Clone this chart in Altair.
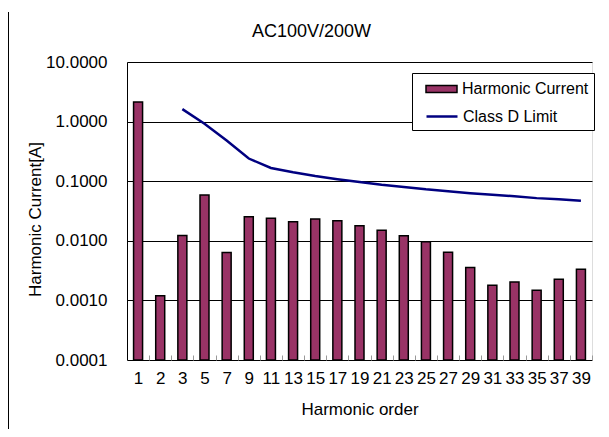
import altair as alt
import pandas as pd

FONT = "Liberation Sans"

# Harmonic orders (x categories)
harmonics = ["1", "2", "3", "5", "7", "9", "11", "13", "15", "17", "19",
             "21", "23", "25", "27", "29", "31", "33", "35", "37", "39"]
# Measured harmonic current [A]
current = [2.13, 0.0012, 0.0123, 0.0589, 0.00635, 0.0254, 0.0239, 0.0209,
           0.0232, 0.0217, 0.0179, 0.0151, 0.0121, 0.0096, 0.00644, 0.00355,
           0.00179, 0.00204, 0.00148, 0.00226, 0.00334]

# Class D limit line [A]
limit_orders = ["3", "5", "7", "9", "11", "13", "15", "17", "19", "21", "23",
                "25", "27", "29", "31", "33", "35", "37", "39"]
limit_values = [1.62, 0.92, 0.48, 0.24, 0.167, 0.141, 0.122, 0.108, 0.097,
                0.087, 0.080, 0.073, 0.068, 0.063, 0.059, 0.056, 0.052,
                0.050, 0.047]

y_ticks = [0.0001, 0.001, 0.01, 0.1, 1, 10]
y_min, y_max = 0.0001, 10
bar_series = "Harmonic Current"
line_series = "Class D Limit"
bar_color = "#993366"
line_color = "#000080"

df_bar = pd.DataFrame({"harmonic": harmonics, "value": current,
                       "series": bar_series})
df_line = pd.DataFrame({"harmonic": limit_orders, "value": limit_values,
                        "series": line_series})

x_enc = alt.X(
    "harmonic:N",
    sort=harmonics,
    scale=alt.Scale(domain=harmonics, paddingInner=0, paddingOuter=0),
    axis=alt.Axis(
        title="Harmonic order", labelAngle=0, labelOverlap=False,
        offset=-5, domain=False, tickSize=5, tickBand="extent",
        tickColor="#999999", tickWidth=1,
        labelPadding=10, labelFontSize=17, labelColor="black", labelFont=FONT,
        titleFontSize=17, titleFontWeight="normal", titleColor="black",
        titleFont=FONT, titlePadding=15,
    ),
)

y_enc = alt.Y(
    "value:Q",
    scale=alt.Scale(type="log", domain=[y_min, y_max], nice=False),
    axis=alt.Axis(
        values=y_ticks, format=".4f", grid=True, gridColor="black",
        gridWidth=1, gridOpacity=1, domainColor="black", tickSize=0,
        labelPadding=20, labelFontSize=17, labelColor="black", labelFont=FONT,
        title="Harmonic Current[A]", titleFontSize=17,
        titleFontWeight="normal", titleColor="black", titleFont=FONT,
        titleX=-83, titleY=157,
    ),
)

# Legend for the bars: owns the white box with black border
fill_enc = alt.Fill(
    "series:N",
    scale=alt.Scale(domain=[bar_series], range=[bar_color]),
    legend=alt.Legend(
        title="\u00a0", titleOrient="bottom", titleOpacity=0,
        titleFontSize=16, titlePadding=12,
        orient="none", legendX=285, legendY=11, zindex=1,
        fillColor="white", strokeColor="black", padding=5, symbolOffset=8,
        labelFont=FONT, labelFontSize=16, labelColor="black",
        symbolSize=400, labelOffset=15,
        symbolType="M-1,-0.36H2.1V0.36H-1Z",
        symbolStrokeColor="black", symbolStrokeWidth=1.5,
    ),
)

# Legend for the limit line: drawn inside the same box
stroke_enc = alt.Stroke(
    "series:N",
    scale=alt.Scale(domain=[line_series], range=[line_color]),
    legend=alt.Legend(
        title=None, orient="none", legendX=285, legendY=38, zindex=2,
        padding=5, symbolOffset=8,
        labelFont=FONT, labelFontSize=16, labelColor="black",
        symbolSize=400, labelOffset=15,
        symbolType="M-1,0H2.1", symbolStrokeWidth=2.5,
    ),
)

bars = alt.Chart(df_bar).mark_bar(size=9, stroke="black", strokeWidth=1.5).encode(
    x=x_enc, y=y_enc, y2=alt.datum(y_min), fill=fill_enc
)

line = alt.Chart(df_line).mark_line(strokeWidth=2.5).encode(
    x=x_enc, y=y_enc, stroke=stroke_enc
)

frame = alt.Chart(pd.DataFrame({"a": [0]})).mark_rule(
    color="black", strokeWidth=1
).encode(x=alt.value(-118.5), y=alt.value(-50), y2=alt.value(380))

chart = alt.layer(bars, line, frame).properties(
    width=465,
    height=298,
    padding={"left": 119, "top": 54, "right": 9, "bottom": 69},
    autosize=alt.AutoSizeParams(type="none"),
    title=alt.Title("AC100V/200W", fontSize=18, fontWeight="normal",
                    font=FONT, color="black", anchor="middle", dx=-48,
                    offset=0, dy=29),
).configure_view(stroke="black", strokeWidth=1).configure(font=FONT)

chart.save("out.html", embed_options={"renderer": "svg", "actions": False})
